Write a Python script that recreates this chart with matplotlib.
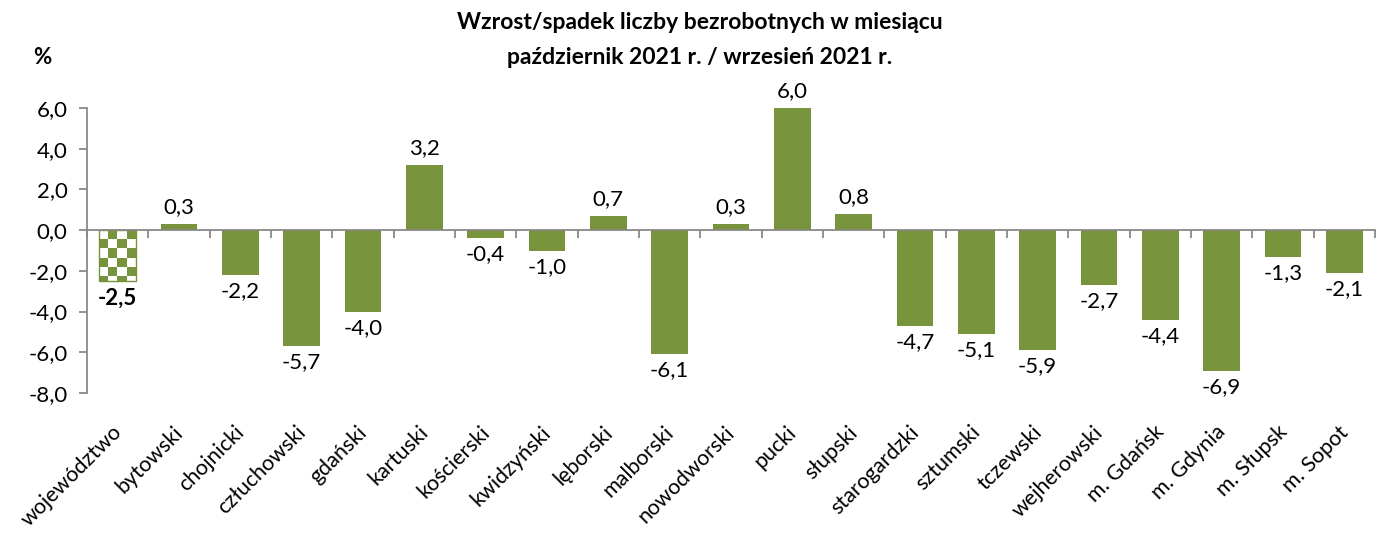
import matplotlib
matplotlib.use("Agg")
import matplotlib.pyplot as plt
import numpy as np
from matplotlib.ticker import FixedLocator, FuncFormatter
from matplotlib import transforms
from matplotlib.colors import ListedColormap

plt.rcParams['font.family'] = ['Lato', 'DejaVu Sans']

categories = ["województwo", "bytowski", "chojnicki", "człuchowski", "gdański",
              "kartuski", "kościerski", "kwidzyński", "lęborski", "malborski",
              "nowodworski", "pucki", "słupski", "starogardzki", "sztumski",
              "tczewski", "wejherowski", "m. Gdańsk", "m. Gdynia", "m. Słupsk",
              "m. Sopot"]
values = [-2.5, 0.3, -2.2, -5.7, -4.0, 3.2, -0.4, -1.0, 0.7, -6.1, 0.3, 6.0,
          0.8, -4.7, -5.1, -5.9, -2.7, -4.4, -6.9, -1.3, -2.1]
yticks = [-8, -6, -4, -2, 0, 2, 4, 6]

green = "#77933C"
gray = "#898989"
fs = 16
fs_cat = 15.5

fig = plt.figure(figsize=(13.83, 5.33), dpi=100)
ax = fig.add_axes([87/1383, 1-393/533, (1375-87)/1383, (393-108)/533])

n = len(categories)
x = np.arange(n)
bars = ax.bar(x, values, width=0.6, color=green, zorder=2)

# checkered first bar
b0 = bars[0]
ncol, nrow = 4, 6
checker = (np.indices((nrow, ncol)).sum(axis=0) + 1) % 2
cmap = ListedColormap([green, "white"])
bx0 = b0.get_x(); bw = b0.get_width()
sq_h = bw / ncol * (1288/21) / (285/14)
im = ax.imshow(checker, cmap=cmap, extent=(bx0, bx0 + bw, -sq_h*nrow, 0),
               aspect='auto', interpolation='nearest', zorder=2.5, origin='upper')
im.set_clip_path(b0)
b0.set_zorder(3)
b0.set_facecolor("none")
b0.set_edgecolor(green)
b0.set_linewidth(1.0)

ax.set_xlim(-0.5, n - 0.5)
ax.set_ylim(-8, 6)

for s in ["top", "right"]:
    ax.spines[s].set_visible(False)
ax.spines["left"].set_color(gray)
ax.spines["left"].set_linewidth(1.3)
ax.spines["bottom"].set_position(("data", 0))
ax.spines["bottom"].set_color(gray)
ax.spines["bottom"].set_linewidth(1.3)
ax.spines["bottom"].set_zorder(4)

ax.yaxis.set_major_locator(FixedLocator(yticks))
ax.yaxis.set_major_formatter(FuncFormatter(lambda v, p: f"{v:.1f}".replace(".", ",")))
ax.tick_params(axis='y', direction='out', length=6, width=1.3, color=gray,
               labelsize=fs, pad=8)
ax.set_xticks(np.arange(n + 1) - 0.5)
ax.set_xticklabels([])
ax.tick_params(axis='x', direction='out', length=6, width=1.3, color=gray)

# category labels at the bottom
trans = transforms.blended_transform_factory(ax.transData, ax.transAxes) + \
    transforms.ScaledTranslation(0, -29/100, fig.dpi_scale_trans)
for i, c in enumerate(categories):
    ax.text(i - 0.1, 0, c, rotation=45, ha='right', va='top',
            rotation_mode='anchor', fontsize=fs_cat, transform=trans)

# value labels
for i, v in enumerate(values):
    lbl = f"{v:.1f}".replace(".", ",")
    if v >= 0:
        ax.annotate(lbl, (i, v), xytext=(0, 5), textcoords='offset points',
                    ha='center', va='bottom', fontsize=fs)
    else:
        ax.annotate(lbl, (i, v), xytext=(0, -4.5), textcoords='offset points',
                    ha='center', va='top', fontsize=fs,
                    fontweight='bold' if i == 0 else 'normal')

fig.text(700/1383, 1-22/533, "Wzrost/spadek liczby bezrobotnych w miesiącu",
         ha='center', va='center', fontsize=16.5, fontweight='bold')
fig.text(700/1383, 1-57/533, "październik 2021 r. / wrzesień 2021 r.",
         ha='center', va='center', fontsize=16.5, fontweight='bold')
fig.text(42/1383, 1-58/533, "%", ha='center', va='center', fontsize=16,
         fontweight='bold')

fig.savefig("out.png", dpi=100)
